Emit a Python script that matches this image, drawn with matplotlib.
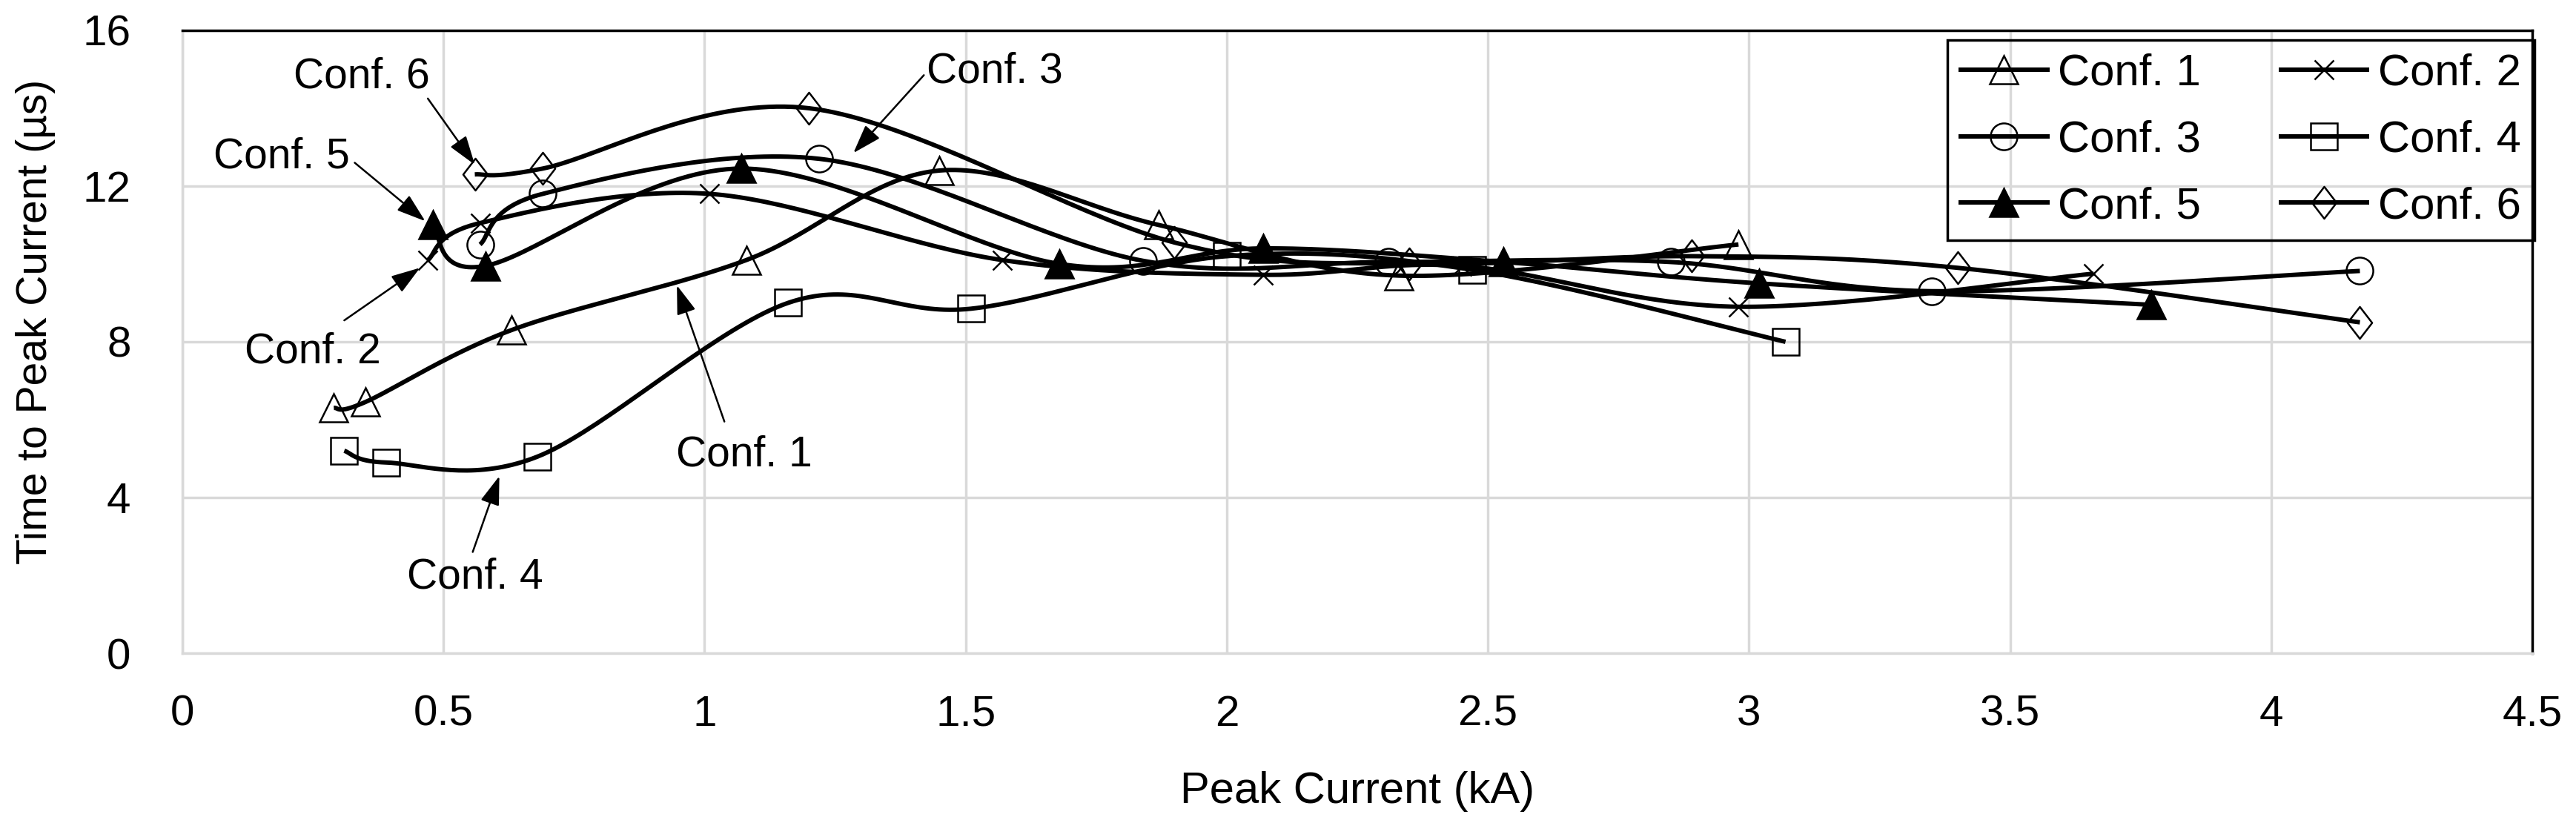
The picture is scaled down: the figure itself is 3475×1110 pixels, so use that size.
import numpy as np
import matplotlib
matplotlib.use("Agg")
import matplotlib.pyplot as plt
from matplotlib.lines import Line2D
from matplotlib.path import Path

plt.rcParams['font.family'] = ['Liberation Sans', 'DejaVu Sans']

# data: peak current (kA) vs time to peak current (us)
conf1_x = [0.29, 0.35, 0.63, 1.08, 1.45, 1.87, 2.33, 2.98]
conf1_y = [6.3, 6.45, 8.3, 10.1, 12.4, 11.0, 9.7, 10.5]
conf2_x = [0.47, 0.57, 1.01, 1.57, 2.07, 2.45, 2.98, 3.66]
conf2_y = [10.1, 11.05, 11.8, 10.1, 9.72, 9.95, 8.9, 9.75]
conf3_x = [0.57, 0.69, 1.22, 1.84, 2.31, 2.85, 3.35, 4.17]
conf3_y = [10.5, 11.8, 12.7, 10.08, 10.05, 10.05, 9.3, 9.82]
conf4_x = [0.31, 0.39, 0.68, 1.16, 1.51, 2.0, 2.47, 3.07]
conf4_y = [5.2, 4.9, 5.05, 9.0, 8.85, 10.2, 9.85, 8.0]
conf5_x = [0.48, 0.58, 1.07, 1.68, 2.07, 2.53, 3.02, 3.77]
conf5_y = [11.0, 9.95, 12.45, 10.0, 10.4, 10.05, 9.5, 8.95]
conf6_x = [0.56, 0.69, 1.2, 1.9, 2.35, 2.89, 3.4, 4.17]
conf6_y = [12.3, 12.45, 14.0, 10.55, 10.0, 10.2, 9.9, 8.5]

labels = ['Conf. 1', 'Conf. 2', 'Conf. 3', 'Conf. 4', 'Conf. 5', 'Conf. 6']
xs_all = [conf1_x, conf2_x, conf3_x, conf4_x, conf5_x, conf6_x]
ys_all = [conf1_y, conf2_y, conf3_y, conf4_y, conf5_y, conf6_y]

diamond = Path([(0, 1), (0.77, 0), (0, -1), (-0.77, 0), (0, 1)],
               [Path.MOVETO, Path.LINETO, Path.LINETO, Path.LINETO, Path.CLOSEPOLY])

# marker style per series: marker, size, face
styles = [
    ('^', 27, 'none'),
    ('x', 19, 'none'),
    ('o', 26, 'none'),
    ('s', 26, 'none'),
    ('^', 27, 'black'),
    (diamond, 31, 'none'),
]

# text label, text pos, arrow tail, arrow tip
notes = [
    ('Conf. 6', (0.343, 14.8), (0.47, 14.25), (0.56, 12.55)),
    ('Conf. 5', (0.19, 12.75), (0.33, 12.6), (0.465, 11.1)),
    ('Conf. 2', (0.25, 7.75), (0.31, 8.55), (0.455, 9.9)),
    ('Conf. 4', (0.56, 1.95), (0.556, 2.6), (0.607, 4.55)),
    ('Conf. 1', (1.076, 5.1), (1.038, 5.95), (0.947, 9.45)),
    ('Conf. 3', (1.556, 14.95), (1.42, 14.85), (1.285, 12.85)),
]


def smooth(xs, ys, n=40):
    # excel-like smoothed line (catmull-rom bezier)
    pts = np.column_stack([xs, ys]).astype(float)
    P = np.vstack([pts[0], pts, pts[-1]])
    t = np.linspace(0, 1, n)[:, None]
    out = []
    for i in range(1, len(P) - 2):
        p0, p1, p2, p3 = P[i - 1], P[i], P[i + 1], P[i + 2]
        c1 = p1 + (p2 - p0) / 6.0
        c2 = p2 - (p3 - p1) / 6.0
        b = (1 - t)**3 * p1 + 3 * (1 - t)**2 * t * c1 + 3 * (1 - t) * t**2 * c2 + t**3 * p2
        out.append(b if i == 1 else b[1:])
    return np.vstack(out)


fig = plt.figure(figsize=(34.75, 11.1), dpi=100)
ax = fig.add_axes([0.0708, 0.2063, 0.9122, 0.7568])

lw = 4.3
for xs, ys, (mk, ms, fc) in zip(xs_all, ys_all, styles):
    c = smooth(xs, ys)
    ax.plot(c[:, 0], c[:, 1], color='black', lw=lw, solid_capstyle='butt', zorder=3)
    ax.plot(xs, ys, ls='none', marker=mk, markersize=ms, markerfacecolor=fc,
            markeredgecolor='black', markeredgewidth=1.8, zorder=4)

for txt, tpos, tail, tip in notes:
    ax.text(tpos[0], tpos[1], txt, fontsize=41, ha='center', va='center', zorder=5)
    ax.annotate('', xy=tip, xytext=tail,
                arrowprops=dict(arrowstyle='-|>,head_length=0.6,head_width=0.2',
                                color='black', lw=1.8, mutation_scale=40,
                                shrinkA=0, shrinkB=0), zorder=5)

ax.set_xlim(0, 4.5)
ax.set_ylim(0, 16)
ax.set_xticks(np.arange(0, 4.51, 0.5))
ax.set_xticklabels(['0', '0.5', '1', '1.5', '2', '2.5', '3', '3.5', '4', '4.5'])
ax.set_yticks([0, 4, 8, 12, 16])
ax.grid(True, color='#D9D9D9', lw=2.5, zorder=0)
ax.set_axisbelow(True)
ax.tick_params(length=0, labelsize=42)
ax.tick_params(axis='y', pad=50)
ax.tick_params(axis='x', pad=40)
for s in ['left', 'bottom']:
    ax.spines[s].set_color('#D9D9D9')
    ax.spines[s].set_linewidth(2.5)
for s in ['top', 'right']:
    ax.spines[s].set_color('black')
    ax.spines[s].set_linewidth(2.5)

fig.text(0.527, 0.038, 'Peak Current (kA)', fontsize=43, ha='center', va='center')
fig.text(0.0138, 0.609, 'Time to Peak Current (\u00b5s)', fontsize=41, ha='center',
         va='center', rotation=90)

handles = [Line2D([], [], color='black', lw=lw, marker=mk, markersize=ms,
                  markerfacecolor=fc, markeredgecolor='black', markeredgewidth=1.8)
           for (mk, ms, fc) in styles]
# legend is filled row by row in the reference
order = [0, 2, 4, 1, 3, 5]
leg = ax.legend([handles[i] for i in order], [labels[i] for i in order], ncol=2,
                loc='upper right',
                bbox_to_anchor=(3419 / 3475, 1 - 54 / 1110), bbox_transform=fig.transFigure,
                fontsize=43, frameon=True, fancybox=False, framealpha=1,
                facecolor='none', edgecolor='black', handlelength=1.95,
                handletextpad=0.25, columnspacing=1.8, labelspacing=0.58,
                borderpad=0.3, borderaxespad=0)
leg.get_frame().set_linewidth(2.5)

fig.savefig('out.png', dpi=100)
